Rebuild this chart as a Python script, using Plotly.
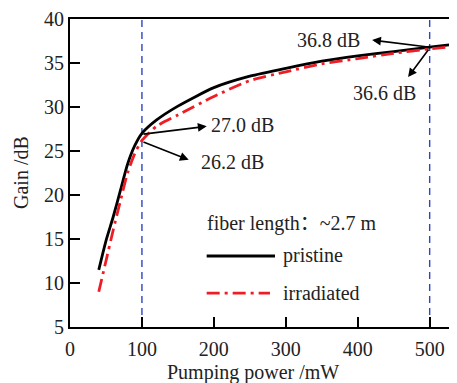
import plotly.graph_objects as go

# Data
power_pristine = [40, 50, 60, 70, 80, 90, 100, 120, 150, 200, 250, 300, 350, 400, 450, 500, 540]
gain_pristine = [11.5, 14.8, 17.5, 20.5, 23.5, 25.6, 27.0, 28.5, 30.1, 32.2, 33.5, 34.4, 35.2, 35.8, 36.3, 36.8, 37.2]
power_irradiated = [40, 50, 60, 70, 80, 90, 100, 120, 150, 200, 250, 300, 350, 400, 450, 500, 540]
gain_irradiated = [9.0, 12.5, 16.0, 19.3, 22.5, 24.7, 26.2, 27.8, 29.1, 31.2, 33.0, 34.0, 34.9, 35.5, 36.1, 36.6, 36.9]
marker_powers = [100, 500]
x_ticks = [0, 100, 200, 300, 400, 500]
y_ticks = [5, 10, 15, 20, 25, 30, 35, 40]

FONT = "'Liberation Serif', 'Noto Sans CJK SC', serif"
FS = 20
TXT = "#222"
RED = "#ee1c25"
DASHDOT = "13px,5px,3px,5px"

fig = go.Figure()
fig.add_trace(go.Scatter(x=power_pristine, y=gain_pristine, mode="lines",
                         line=dict(color="black", width=2.8, shape="spline", smoothing=0.6),
                         name="pristine", showlegend=False))
fig.add_trace(go.Scatter(x=power_irradiated, y=gain_irradiated, mode="lines",
                         line=dict(color=RED, width=2.8, dash=DASHDOT, shape="spline", smoothing=0.6),
                         name="irradiated", showlegend=False))

shapes = []
for p in marker_powers:
    shapes.append(dict(type="line", xref="x", yref="paper", x0=p, x1=p, y0=0, y1=1,
                       line=dict(color="#2f45c4", width=1.4, dash="7px,5px"), layer="below"))
# legend samples
shapes.append(dict(type="line", xref="x", yref="y", x0=190, x1=285, y0=13.07, y1=13.07,
                   line=dict(color="black", width=2.8)))
shapes.append(dict(type="line", xref="x", yref="y", x0=190, x1=278, y0=8.86, y1=8.86,
                   line=dict(color=RED, width=2.8, dash=DASHDOT)))

annotations = []
def arrow(tail, head):
    annotations.append(dict(x=head[0], y=head[1], ax=tail[0], ay=tail[1], xref="x", yref="y",
                            axref="x", ayref="y", text="", showarrow=True, arrowhead=2,
                            arrowsize=1.1, arrowwidth=1.6, arrowcolor="black", standoff=0, startstandoff=0))

def label(x, y, text, anchor="center"):
    annotations.append(dict(x=x, y=y, xref="x", yref="y", text=text, showarrow=False,
                            xanchor=anchor, yanchor="middle", font=dict(family=FONT, size=FS, color=TXT)))

arrow((500, 36.8), (420, 37.6))
arrow((500, 36.7), (470, 33.4))
arrow((100, 26.9), (190, 27.8))
arrow((100, 26.1), (165, 24.0))
label(360, 37.6, "36.8 dB")
label(437, 31.6, "36.6 dB")
label(240, 28.0, "27.0 dB")
label(226, 23.8, "26.2 dB")
label(187, 16.8, "fiber length：~2.7 m", anchor="left")
label(293, 13.07, "pristine", anchor="left")
label(293, 8.86, "irradiated", anchor="left")
# axis titles
annotations.append(dict(x=255, y=0, xref="x", yref="paper", yshift=-45, text="Pumping power /mW",
                        showarrow=False, font=dict(family=FONT, size=FS, color=TXT), yanchor="middle"))
annotations.append(dict(x=0, y=0.5, xref="paper", yref="paper", xshift=-49, text="Gain /dB", textangle=-90,
                        showarrow=False, font=dict(family=FONT, size=FS, color=TXT), xanchor="center",
                        yanchor="middle"))

fig.update_layout(
    width=449, height=375,
    margin=dict(l=62, r=0, t=11, b=56),
    paper_bgcolor="white", plot_bgcolor="white",
    shapes=shapes, annotations=annotations,
    font=dict(family=FONT, size=FS, color=TXT),
    xaxis=dict(range=[0, 538], tickvals=x_ticks, ticks="inside", ticklen=10, tickwidth=2,
               tickcolor="black", showline=True, linewidth=2, linecolor="black", mirror=True,
               showgrid=False, zeroline=False, ticklabelstandoff=3,
               tickfont=dict(family=FONT, size=FS, color=TXT)),
    yaxis=dict(range=[5, 40], tickvals=y_ticks, ticks="inside", ticklen=10, tickwidth=2,
               tickcolor="black", showline=True, linewidth=2, linecolor="black",
               showgrid=False, zeroline=False,
               tickfont=dict(family=FONT, size=FS, color=TXT)),
)

fig.write_html("out.html")
